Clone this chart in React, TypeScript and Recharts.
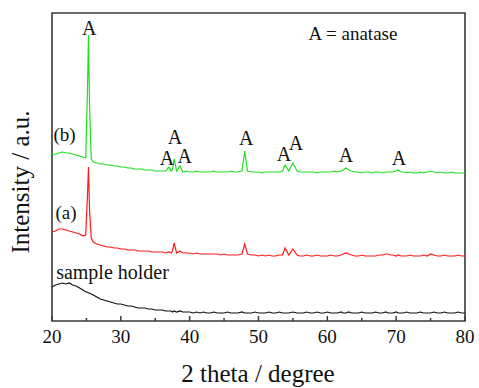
import React from 'react';
import { LineChart, Line, XAxis, YAxis, ReferenceArea, ReferenceDot } from 'recharts';

// 2 theta positions (degree), rows of 10
const angles = [
  20, 20.5, 21, 21.5, 22, 22.5, 23, 23.5, 24, 24.5,
  24.9, 25.15, 25.3, 25.45, 25.7, 26, 26.5, 27, 27.5, 28,
  28.5, 29, 29.5, 30, 30.5, 31, 31.5, 32, 32.5, 33,
  33.5, 34, 34.5, 35, 35.5, 36, 36.5, 37, 37.3, 37.5,
  37.75, 38.1, 38.6, 39, 39.5, 40, 40.5, 41, 41.5, 42,
  42.5, 43, 43.5, 44, 44.5, 45, 45.5, 46, 46.5, 47,
  47.6, 48, 48.4, 49, 49.5, 50, 50.5, 51, 51.5, 52,
  52.5, 53, 53.5, 53.85, 54.4, 55, 55.6, 56, 56.5, 57,
  57.5, 58, 58.5, 59, 59.5, 60, 60.5, 61, 61.5, 62,
  62.3, 62.7, 63.1, 63.5, 64, 64.5, 65, 65.5, 66, 66.5,
  67, 67.5, 68, 68.5, 68.8, 69.2, 69.5, 70, 70.3, 70.7,
  71, 71.5, 72, 72.5, 73, 73.5, 74, 74.5, 75, 75.5,
  76, 76.5, 77, 77.5, 78, 78.5, 79, 79.5, 80,
];

// intensity (a.u., stacked offsets included)
const sampleHolder = [
  34, 36, 37, 38, 37, 38, 36, 35, 33, 31,
  29, 29, 28, 28, 27, 26, 24, 22, 21, 20,
  19, 18, 17, 17, 16, 15, 15, 14, 13, 13,
  13, 12, 12, 11, 11, 11, 10, 10, 10, 9,
  10, 9, 10, 9, 9, 9, 8, 9, 8, 9,
  8, 8, 9, 8, 8, 8, 9, 8, 8, 8,
  9, 8, 8, 8, 9, 8, 8, 8, 9, 8,
  8, 9, 8, 8, 8, 9, 8, 8, 8, 9,
  8, 8, 9, 8, 8, 9, 8, 8, 8, 9,
  8, 8, 9, 8, 8, 8, 9, 8, 8, 8,
  9, 8, 8, 9, 8, 8, 8, 9, 8, 8,
  8, 9, 8, 8, 8, 9, 8, 8, 8, 9,
  8, 8, 9, 8, 8, 8, 9, 8, 8,
];

const sampleA = [
  89, 90, 92, 92, 91, 90, 89, 88, 87, 85,
  86, 125, 154, 112, 83, 79, 77, 76, 75, 74,
  74, 73, 73, 72, 72, 71, 71, 71, 70, 70,
  70, 70, 69, 69, 69, 69, 68, 69, 68, 70,
  78, 68, 70, 68, 68, 68, 67, 68, 67, 67,
  67, 67, 67, 67, 66, 67, 66, 66, 66, 66,
  67, 77, 67, 66, 66, 65, 66, 65, 66, 65,
  65, 66, 66, 73, 66, 72, 66, 65, 65, 66,
  65, 65, 66, 65, 65, 65, 66, 65, 65, 66,
  67, 68, 67, 66, 65, 65, 66, 65, 65, 65,
  65, 66, 66, 67, 67, 66, 66, 65, 66, 65,
  65, 65, 66, 65, 65, 65, 66, 65, 67, 66,
  65, 65, 66, 65, 65, 65, 66, 65, 65,
];

const sampleB = [
  166, 167, 168, 169, 168, 168, 167, 166, 165, 164,
  163, 230, 286, 215, 162, 159, 158, 157, 157, 156,
  156, 155, 155, 154, 154, 153, 153, 152, 152, 152,
  151, 151, 151, 150, 150, 150, 150, 154, 150, 151,
  162, 150, 155, 149, 150, 149, 149, 150, 149, 149,
  149, 149, 150, 149, 149, 149, 149, 150, 149, 149,
  150, 170, 150, 149, 149, 149, 148, 149, 149, 149,
  149, 149, 150, 156, 150, 158, 150, 149, 149, 149,
  149, 149, 148, 149, 149, 149, 149, 150, 149, 150,
  151, 153, 151, 150, 149, 149, 148, 149, 149, 148,
  149, 149, 148, 149, 149, 149, 149, 150, 151, 149,
  149, 148, 149, 148, 148, 149, 148, 149, 150, 149,
  148, 149, 148, 148, 149, 148, 148, 148, 148,
];

const xTicks = [20, 25, 30, 35, 40, 45, 50, 55, 60, 65, 70, 75, 80];

// "A" marks: [2theta, height]
const anataseLabels = [
  [25.4, 293], [36.7, 163], [37.85, 184], [39.3, 165], [48.2, 183],
  [53.7, 167], [55.45, 178], [62.7, 166], [70.4, 163],
];

const FONT = '"Liberation Serif", "Times New Roman", serif';
const FRAME = '#3a3a3a';

const data = angles.map((angle, i) => ({
  angle,
  holder: sampleHolder[i],
  a: sampleA[i],
  b: sampleB[i],
}));

function AxisTick(props: any) {
  const { x, y, payload } = props;
  const major = payload.value % 10 === 0;
  return (
    <g>
      <line x1={x} x2={x} y1={y} y2={y - (major ? 5 : 3)} stroke={FRAME} strokeWidth={1.5} />
      {major && (
        <text x={x} y={y + 22} textAnchor="middle" fill="#111" style={{ fontFamily: FONT, fontSize: 19 }}>
          {payload.value}
        </text>
      )}
    </g>
  );
}

const textLabel = (value: string, size = 20) => ({
  value,
  position: 'center' as const,
  fontSize: size,
  fontFamily: FONT,
  fill: '#111',
  style: { fontFamily: FONT, fontSize: size },
});

export default function App() {
  return (
    <div style={{ position: 'absolute', left: 0, top: 0, width: 479, height: 388, background: '#fff', fontFamily: FONT }}>
      <LineChart width={479} height={388} data={data} margin={{ top: 13, right: 14, bottom: 37, left: 52 }} style={{ fontFamily: FONT }}>
        <XAxis
          dataKey="angle"
          type="number"
          domain={[20, 80]}
          ticks={xTicks}
          interval={0}
          axisLine={false}
          tickLine={false}
          tickSize={0}
          tickMargin={0}
          height={30}
          tick={<AxisTick />}
        />
        <YAxis hide domain={[0, 308]} />
        <ReferenceArea x1={20} x2={80} y1={0} y2={308} fill="none" stroke={FRAME} strokeWidth={1.6} />
        <Line dataKey="holder" stroke="#111" strokeWidth={1.2} dot={false} isAnimationActive={false} />
        <Line dataKey="a" stroke="#ff1a1a" strokeWidth={1.2} dot={false} isAnimationActive={false} />
        <Line dataKey="b" stroke="#1ee01e" strokeWidth={1.2} dot={false} isAnimationActive={false} />
        {anataseLabels.map(([x, y], i) => (
          <ReferenceDot key={i} x={x} y={y} r={0} fill="none" stroke="none" label={textLabel('A')} />
        ))}
        <ReferenceDot x={63.73} y={287.5} r={0} fill="none" stroke="none" label={textLabel('A = anatase', 19)} />
        <ReferenceDot x={21.82} y={187} r={0} fill="none" stroke="none" label={textLabel('(b)', 19)} />
        <ReferenceDot x={22.03} y={109} r={0} fill="none" stroke="none" label={textLabel('(a)', 19)} />
        <ReferenceDot x={28.79} y={49} r={0} fill="none" stroke="none" label={textLabel('sample holder', 20)} />
      </LineChart>
      <svg width={479} height={388} style={{ position: 'absolute', left: 0, top: 0, pointerEvents: 'none' }}>
        <text x={258} y={382} textAnchor="middle" fontSize={25} fontFamily={FONT} fill="#111">
          2 theta / degree
        </text>
        <text x={29} y={182} transform="rotate(-90, 29, 182)" textAnchor="middle" fontSize={25} fontFamily={FONT} fill="#111">
          Intensity / a.u.
        </text>
      </svg>
    </div>
  );
}
